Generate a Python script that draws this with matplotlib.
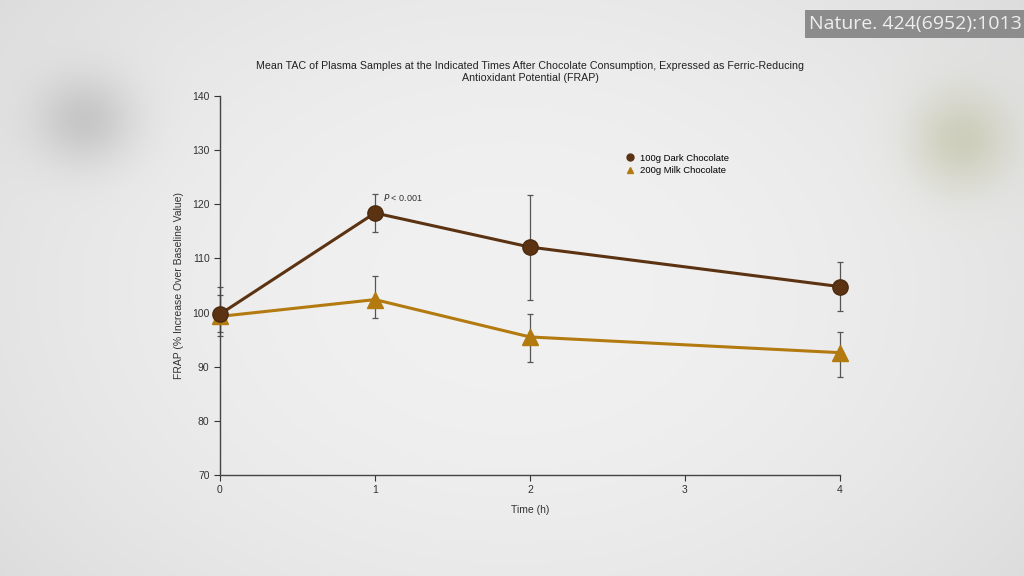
import numpy as np
import matplotlib.pyplot as plt
from matplotlib.lines import Line2D

hours = [0, 1, 2, 4]
dark_mean = [99.7, 118.4, 112.1, 104.8]
dark_lo = [95.7, 114.9, 102.3, 100.3]
dark_hi = [104.8, 121.9, 121.8, 109.3]
milk_mean = [99.3, 102.4, 95.5, 92.6]
milk_lo = [96.5, 99.0, 90.9, 88.1]
milk_hi = [103.3, 106.8, 99.8, 96.4]

dark_col = "#5b3312"
milk_col = "#b37a10"
err_col = "#555555"

plt.rcParams["font.family"] = ["Liberation Sans", "DejaVu Sans"]

fig = plt.figure(figsize=(10.24, 5.76), dpi=100)

# slide background: light grey with soft blurred blobs at the sides
bg = fig.add_axes([0, 0, 1, 1], zorder=-10)
yy, xx = np.mgrid[0:576, 0:1024]
base = 0.945 - 0.05 * (np.abs(xx - 512) / 512) ** 2 - 0.03 * (np.abs(yy - 288) / 288) ** 2
img = np.dstack([base, base, base])
blob_l = np.exp(-(((xx - 85) / 50) ** 2 + ((yy - 120) / 45) ** 2))
img -= 0.12 * blob_l[..., None]
blob_r = np.exp(-(((xx - 960) / 50) ** 2 + ((yy - 140) / 50) ** 2))
img -= blob_r[..., None] * np.array([0.09, 0.09, 0.16])
bg.imshow(np.clip(img, 0, 1), aspect="auto", extent=[0, 1, 0, 1])
bg.axis("off")

ax = fig.add_axes([0.2148, 0.1753, 0.6055, 0.658])
ax.set_facecolor("none")

ax.errorbar(hours, dark_mean,
            yerr=[np.subtract(dark_mean, dark_lo), np.subtract(dark_hi, dark_mean)],
            fmt="none", ecolor=err_col, elinewidth=0.9, capsize=2.5, capthick=0.9,
            zorder=2, clip_on=False)
ax.errorbar(hours, milk_mean,
            yerr=[np.subtract(milk_mean, milk_lo), np.subtract(milk_hi, milk_mean)],
            fmt="none", ecolor=err_col, elinewidth=0.9, capsize=2.5, capthick=0.9,
            zorder=2, clip_on=False)

ax.plot(hours, milk_mean, "-^", color=milk_col, lw=2.2, ms=11,
        mec=milk_col, zorder=3, clip_on=False)
ax.plot(hours, dark_mean, "-o", color=dark_col, lw=2.2, ms=11,
        mec="#4a2a0e", zorder=4, clip_on=False)

ax.text(1.05, 120.6, r"$P$ < 0.001", fontsize=6.5, color="#333333")

ax.set_xlim(0, 4)
ax.set_ylim(70, 140)
ax.set_xticks([0, 1, 2, 3, 4])
ax.set_yticks(range(70, 141, 10))
ax.tick_params(labelsize=7.5, colors="#333333", length=4, width=0.8, direction="out")
for s in ["top", "right"]:
    ax.spines[s].set_visible(False)
for s in ["left", "bottom"]:
    ax.spines[s].set_color("#444444")
    ax.spines[s].set_linewidth(1.0)

ax.set_xlabel("Time (h)", fontsize=7.5, color="#333333", labelpad=7)
ax.set_ylabel("FRAP (% Increase Over Baseline Value)", fontsize=7.5, color="#333333", labelpad=6)

handles = [Line2D([], [], ls="none", marker="o", ms=5, color=dark_col),
           Line2D([], [], ls="none", marker="^", ms=5, color=milk_col)]
ax.legend(handles, ["100g Dark Chocolate", "200g Milk Chocolate"], loc="upper left",
          bbox_to_anchor=(0.642, 0.87), frameon=False, fontsize=6.8,
          handlelength=0.8, handletextpad=0.6, labelspacing=0.35)

fig.text(0.518, 0.875, "Mean TAC of Plasma Samples at the Indicated Times After Chocolate Consumption, "
         "Expressed as Ferric-Reducing\nAntioxidant Potential (FRAP)",
         ha="center", va="center", fontsize=7.7, color="#222222", linespacing=1.3)

fig.text(0.7905, 0.958, "Nature. 424(6952):1013", ha="left", va="center",
         fontsize=14, color="#eeeeee", family=["Open Sans", "DejaVu Sans"],
         bbox=dict(boxstyle="square,pad=0.25", fc="#8c8c8c", ec="none"))

fig.savefig("out.png", dpi=100)
